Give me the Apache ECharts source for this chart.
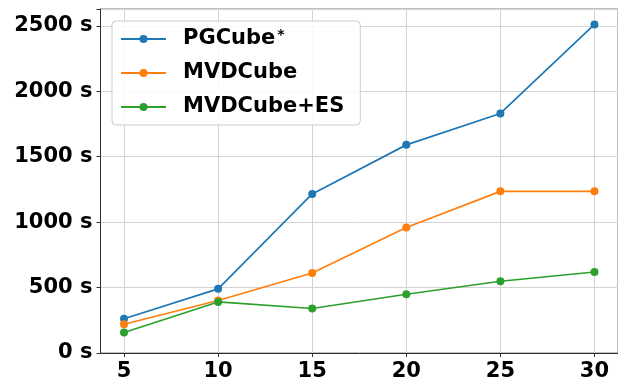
<!DOCTYPE html>
<html>
<head>
<meta charset="utf-8">
<script src="https://cdn.jsdelivr.net/npm/echarts@6/dist/echarts.min.js"></script>
<style>
  html, body { margin: 0; padding: 0; background: #fff; }
  #chart { width: 618px; height: 383px; }
</style>
</head>
<body>
<div id="chart"></div>
<script>
// datos
const nodos = [5, 10, 15, 20, 25, 30];
const pgCube = [262, 490, 1215, 1590, 1830, 2510];
const mvdCube = [220, 401, 611, 959, 1235, 1235];
const mvdCubeEs = [157, 390, 340, 449, 548, 619];
const nombres = ['PGCube', 'MVDCube', 'MVDCube+ES'];
const colores = ['#1f77b4', '#ff7f0e', '#2ca02c'];

const fuente = 'DejaVu Sans';
const myChart = echarts.init(document.getElementById('chart'));

const pares = arr => nodos.map((n, i) => [n, arr[i]]);

function serie(nombre, datos, color) {
  return {
    name: nombre,
    type: 'line',
    data: pares(datos),
    symbol: 'circle',
    symbolSize: 8,
    showSymbol: true,
    lineStyle: { color: color, width: 1.7 },
    itemStyle: { color: color },
    emphasis: { disabled: true },
    z: 3
  };
}

let option = {
  animation: false,
  grid: {
    left: 100.5,
    right: -2.5,
    top: 9,
    bottom: 30,
    show: true,
    borderColor: '#808080',
    borderWidth: 1
  },
  legend: {
    orient: 'vertical',
    left: 112,
    top: 21,
    itemWidth: 45,
    itemHeight: 10,
    itemGap: 12,
    padding: [7, 16, 7, 8],
    backgroundColor: 'rgba(255,255,255,0.85)',
    borderColor: '#cccccc',
    borderWidth: 1,
    borderRadius: 4,
    data: nombres,
    formatter: name => name === 'PGCube' ? 'PGCube{sup|*}' : name,
    textStyle: {
      fontFamily: fuente,
      fontSize: 21,
      lineHeight: 22,
      fontWeight: 'bold',
      color: '#000',
      padding: [0, 0, 0, 12],
      rich: {
        sup: {
          fontFamily: fuente,
          fontSize: 14,
          lineHeight: 22,
          fontWeight: 'bold',
          color: '#000',
          verticalAlign: 'top',
          padding: [0, 0, 0, 2]
        }
      }
    }
  },
  xAxis: {
    type: 'value',
    min: 3.75,
    max: 31.25,
    axisLine: { show: true, lineStyle: { color: '#333', width: 1 } },
    axisTick: { show: true, length: 4, lineStyle: { color: '#333' }, customValues: nodos },
    axisLabel: {
      customValues: nodos,
      margin: 8,
      fontFamily: fuente,
      fontSize: 21,
      fontWeight: 'bold',
      color: '#000'
    },
    splitLine: { show: true, lineStyle: { color: '#d3d3d3', width: 1 } }
  },
  yAxis: {
    type: 'value',
    min: 0,
    max: 2628,
    interval: 500,
    axisLine: { show: true, lineStyle: { color: '#333', width: 1 } },
    axisTick: { show: true, length: 4, lineStyle: { color: '#333' } },
    axisLabel: {
      formatter: v => (v > 2600 ? '' : v + ' s'),
      margin: 8,
      fontFamily: fuente,
      fontSize: 21,
      fontWeight: 'bold',
      color: '#000'
    },
    splitLine: { show: true, lineStyle: { color: '#d3d3d3', width: 1 } }
  },
  series: [
    serie(nombres[0], pgCube, colores[0]),
    serie(nombres[1], mvdCube, colores[1]),
    serie(nombres[2], mvdCubeEs, colores[2])
  ]
};

myChart.setOption(option);
</script>
</body>
</html>
